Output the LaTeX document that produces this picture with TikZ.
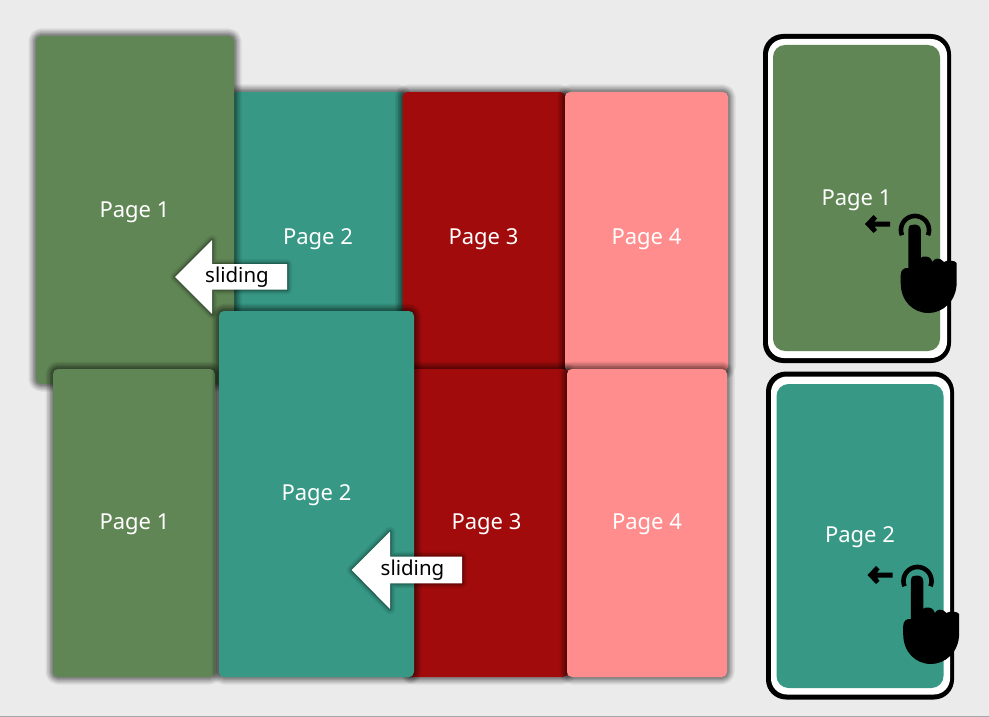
\documentclass[tikz,border=0pt]{standalone}
\usepackage{fontspec}
\setmainfont{Noto Sans}
\definecolor{pgreen}{HTML}{618655}
\definecolor{pteal}{HTML}{379885}
\definecolor{pred}{HTML}{A20B0B}
\definecolor{ppink}{HTML}{FF8D8D}
\definecolor{pbg}{HTML}{EBEBEB}
\tikzset{
  glowing/.style={
    preaction={draw=black,draw opacity=.07,line width=15pt,line join=round},
    preaction={draw=black,draw opacity=.09,line width=12pt,line join=round},
    preaction={draw=black,draw opacity=.11,line width=9pt,line join=round},
    preaction={draw=black,draw opacity=.13,line width=6pt,line join=round},
    preaction={draw=black,draw opacity=.15,line width=3pt,line join=round}},
  softglow/.style={
    preaction={draw=black,draw opacity=.06,line width=10pt,line join=round},
    preaction={draw=black,draw opacity=.09,line width=7pt,line join=round},
    preaction={draw=black,draw opacity=.13,line width=4pt,line join=round},
    preaction={draw=black,draw opacity=.15,line width=2pt,line join=round}},
  pagebox/.style={rectangle,rounded corners=5pt,inner sep=0pt,outer sep=0pt,glowing},
  pagetext/.style={text=white,font=\fontsize{22}{26}\selectfont,inner sep=0pt},
  slidetext/.style={text=black,font=\fontsize{20.5}{24}\selectfont,inner sep=0pt},
  bigarrow/.style={fill=white,softglow},
  outerphone/.style={rectangle,fill=black,rounded corners=20pt,inner sep=0pt,outer sep=0pt},
  innerphone/.style={rectangle,fill=white,rounded corners=16pt,inner sep=0pt,outer sep=0pt},
  screen/.style={rectangle,rounded corners=12pt,inner sep=0pt,outer sep=0pt},
  touchhand/.pic={
    % small arrow
    \fill[black] (-50,-6) -- (-41.5,-15) -- (-38,-11.5) -- (-40.5,-8.5) -- (-25,-8.5) -- (-25,-3.5)
      -- (-40.5,-3.5) -- (-38,0) -- (-41.5,3) -- cycle;
    % ring
    \draw[black,line width=4.6pt] plot[domain=-22:202,samples=40] ({14*cos(\x)},{-14*sin(\x)});
    % hand
    \fill[black] (-6.6,0) .. controls (-6.6,-5.5) and (-3.3,-5.5) .. (-0.5,-5.5)
      .. controls (3,-5.5) and (5.8,-3.5) .. (5.8,0)
      -- (5.8,28)
      .. controls (6.5,26.5) and (9,26) .. (11.5,26.5)
      .. controls (15,27) and (17,30) .. (17.5,32)
      .. controls (19,28) and (25,27) .. (29,32)
      .. controls (31,30) and (40,30) .. (41.7,33)
      -- (41.7,52)
      .. controls (41.7,72) and (27,83) .. (13.5,83)
      .. controls (-2,83) and (-14.3,71) .. (-14.3,53)
      -- (-14.3,45)
      .. controls (-14.3,40) and (-11,37.5) .. (-6.6,38)
      -- cycle;
  }
}
\begin{document}
\begin{tikzpicture}[x=1pt,y=-1pt]
\useasboundingbox (0,0) rectangle (989,717);
\fill[pbg] (0,0) rectangle (989,717);
\draw[gray!70,line width=1pt] (0,716.5) -- (989,716.5);

% top row
\node[pagebox,fill=pteal,minimum width=172pt,minimum height=280pt] (t2) at (318,232) {};
\node[pagebox,fill=pred,minimum width=163pt,minimum height=280pt] (t3) at (484,232) {};
\node[pagebox,fill=ppink,minimum width=163pt,minimum height=280pt] (t4) at (646.5,232) {};
\node[pagebox,fill=pgreen,minimum width=198pt,minimum height=348pt] (t1) at (135,210) {};
\node[pagetext] (t1t) at (134.5,212) {Page 1};
\node[pagetext] (t2t) at (318,239) {Page 2};
\node[pagetext] (t3t) at (483.5,239) {Page 3};
\node[pagetext] (t4t) at (646.5,239) {Page 4};
\fill[bigarrow] (175,277) -- (212,240) -- (212,264) -- (287,264) -- (287,289.5) -- (212,289.5) -- (212,314) -- cycle;
\node[slidetext] (s1) at (237,277.5) {sliding};

% bottom row
\node[pagebox,fill=pgreen,minimum width=162pt,minimum height=308pt] (b1) at (134,523) {};
\node[pagebox,fill=pred,minimum width=160pt,minimum height=308pt] (b3) at (488,523) {};
\node[pagebox,fill=ppink,minimum width=160pt,minimum height=308pt] (b4) at (647,523) {};
\node[pagebox,fill=pteal,minimum width=195pt,minimum height=366pt] (b2) at (316.5,494) {};
\node[pagetext] (b1t) at (134.5,524) {Page 1};
\node[pagetext] (b2t) at (316.5,495) {Page 2};
\node[pagetext] (b3t) at (486.5,524) {Page 3};
\node[pagetext] (b4t) at (647,524) {Page 4};
\fill[bigarrow] (351.7,570) -- (390,531.7) -- (390,556.7) -- (462,556.7) -- (462,583.3) -- (390,583.3) -- (390,609) -- cycle;
\node[slidetext] (s2) at (412.5,570.5) {sliding};

% phone 1
\node[outerphone,minimum width=188pt,minimum height=329pt] (p1o) at (857,198.5) {};
\node[innerphone,minimum width=179pt,minimum height=319pt] (p1i) at (857.5,198.5) {};
\node[screen,fill=pgreen,minimum width=167pt,minimum height=306pt] (p1s) at (856.5,198) {};
\node[pagetext] (p1t) at (856.5,200) {Page 1};
\pic at (915,230) {touchhand};

% phone 2
\node[outerphone,minimum width=188pt,minimum height=328pt] (p2o) at (860,535.5) {};
\node[innerphone,minimum width=179pt,minimum height=318pt] (p2i) at (860.5,535.5) {};
\node[screen,fill=pteal,minimum width=167pt,minimum height=304pt] (p2s) at (860,536) {};
\node[pagetext] (p2t) at (860,537) {Page 2};
\pic at (917.5,581) {touchhand};
\end{tikzpicture}
\end{document}
